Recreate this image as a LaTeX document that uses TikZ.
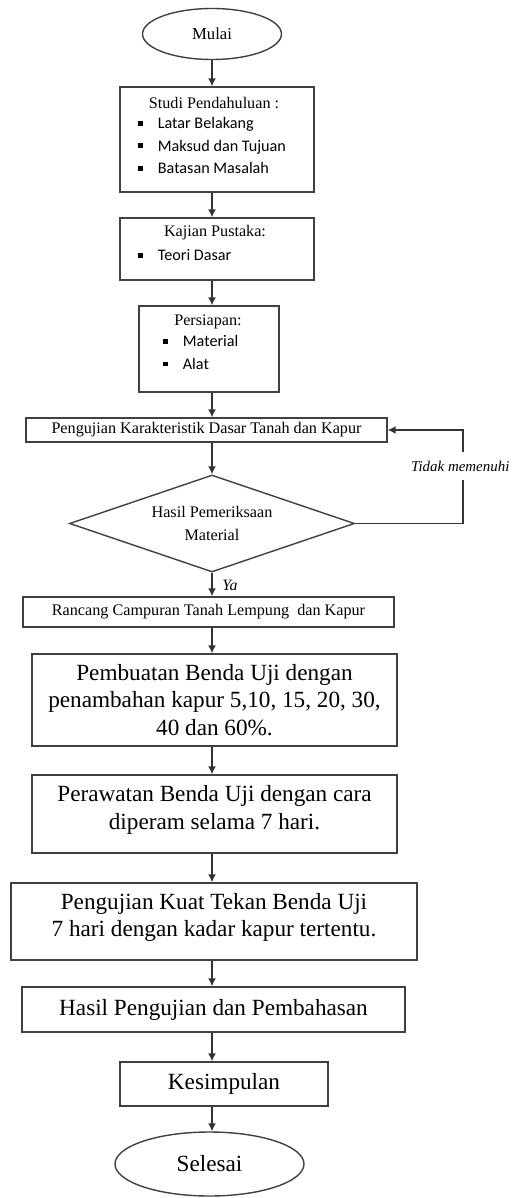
\documentclass[tikz,border=0pt]{standalone}
\usepackage{fontspec}
\setmainfont{Liberation Serif}
\newfontfamily\butirfont{Carlito}
\usetikzlibrary{arrows.meta,shapes.geometric}

\newcommand{\butir}[1]{\rule[1.7pt]{2.6pt}{2.6pt}\hspace{8.5pt}{\butirfont #1}}

\begin{document}
\begin{tikzpicture}[
    every node/.style={inner sep=0pt},
    kecil/.style={font=\fontsize{9.2}{11}\selectfont},
    box/.style={draw=black!75, line width=0.8pt, rectangle, align=center, kecil},
    bigbox/.style={box, font=\fontsize{13.2}{15.6}\selectfont},
    term/.style={draw=black!75, line width=0.8pt, ellipse, align=center},
    cek/.style={draw=black!75, line width=0.8pt, diamond, aspect=2.9, align=center, font=\fontsize{9.2}{13}\selectfont},
    lst/.style={align=left, anchor=west, font=\fontsize{9.2}{12.8}\selectfont},
    arr/.style={draw=black!80, line width=0.8pt, -{Latex[length=4.5pt,width=4.5pt]}}
  ]
  \useasboundingbox (0,0) rectangle (10.30,-23.96);
  \coordinate (sumbu) at (4.24,0);
  \coordinate (balik) at (9.26,0);

  \node[term, minimum width=2.78cm, minimum height=1.02cm, font=\fontsize{9.5}{11}\selectfont] (mulai) at (4.24,-0.68) {Mulai};

  \node[box, minimum width=3.88cm, minimum height=2.10cm] (studi) at (4.34,-2.79) {};
  \node[kecil] (studiT) at (4.28,-2.06) {Studi Pendahuluan :};
  \node[lst] (studiL) at (2.76,-2.91) {\butir{Latar Belakang}\\ \butir{Maksud dan Tujuan}\\ \butir{Batasan Masalah}};

  \node[box, minimum width=3.88cm, minimum height=1.24cm] (kajian) at (4.34,-4.98) {};
  \node[kecil] (kajianT) at (4.30,-4.66) {Kajian Pustaka:};
  \node[lst] (kajianL) at (2.76,-5.10) {\butir{Teori Dasar}};

  \node[box, minimum width=2.80cm, minimum height=1.72cm] (siap) at (4.18,-6.98) {};
  \node[kecil] (siapT) at (4.16,-6.44) {Persiapan:};
  \node[lst] (siapL) at (3.26,-7.05) {\butir{Material}\\ \butir{Alat}};

  \node[box, minimum width=7.22cm, minimum height=0.48cm] (uji) at (4.13,-8.60) {Pengujian Karakteristik Dasar Tanah dan Kapur};
  \node[cek, minimum width=5.70cm, minimum height=1.94cm] (hasil) at (4.24,-10.47) {Hasil Pemeriksaan\\Material};
  \node[box, minimum width=7.42cm, minimum height=0.60cm] (rancang) at (4.17,-12.24) {Rancang Campuran Tanah Lempung~ dan Kapur};

  \node[bigbox, minimum width=7.30cm, minimum height=1.84cm] (buat) at (4.29,-14.00) {Pembuatan Benda Uji dengan\\penambahan kapur 5,10, 15, 20, 30,\\40 dan 60\%.};
  \node[bigbox, minimum width=7.30cm, minimum height=1.56cm] (rawat) at (4.29,-16.28) {Perawatan Benda Uji dengan cara\\diperam selama 7 hari.\\[-8pt]\mbox{}};
  \node[bigbox, minimum width=8.12cm, minimum height=1.54cm] (kuat) at (4.28,-18.43) {Pengujian Kuat Tekan Benda Uji\\7 hari dengan kadar kapur tertentu.\\[-8pt]\mbox{}};
  \node[bigbox, minimum width=7.66cm, minimum height=0.90cm] (bahas) at (4.27,-20.19) {Hasil Pengujian dan Pembahasan};
  \node[bigbox, minimum width=4.16cm, minimum height=0.88cm] (simpul) at (4.48,-21.68) {Kesimpulan};
  \node[term, minimum width=3.78cm, minimum height=1.28cm, font=\fontsize{13.2}{15}\selectfont] (selesai) at (4.19,-23.28) {Selesai};

  \foreach \a/\b in {mulai/studi,studi/kajian,kajian/siap,siap/uji,uji/hasil,hasil/rancang,rancang/buat,buat/rawat,rawat/kuat,kuat/bahas,bahas/simpul,simpul/selesai}{
    \draw[arr] (\a.south -| sumbu) -- (\b.north -| sumbu);
  }

  \draw[arr] (hasil.east) -- (hasil.east -| balik) -- (uji.east -| balik) -- (uji.east);
  \node[fill=white, inner xsep=1pt, inner ysep=5pt, anchor=west, font=\itshape\fontsize{8.5}{10}\selectfont] (tidak) at (8.18,-9.32) {Tidak memenuhi};
  \node[font=\itshape\fontsize{9}{11}\selectfont] (ya) at (4.60,-11.70) {Ya};
\end{tikzpicture}
\end{document}
